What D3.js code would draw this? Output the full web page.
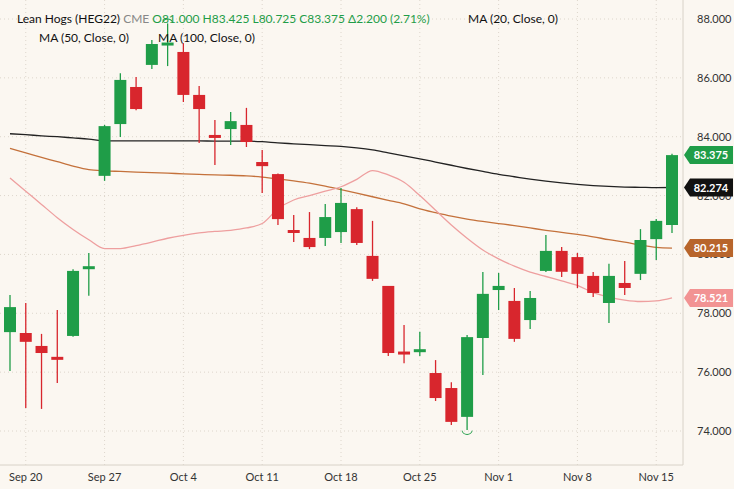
<!DOCTYPE html><html><head><meta charset="utf-8">
<script src="https://cdn.jsdelivr.net/npm/d3@7"></script>
<style>body{margin:0;background:#fbf7f1;font-family:Lato,"Open Sans",sans-serif}</style></head><body>
<svg id="c" width="734" height="489"></svg>
<script>
const dates=["Sep 17","Sep 20","Sep 21","Sep 22","Sep 23","Sep 24","Sep 27","Sep 28","Sep 29","Sep 30","Oct 1","Oct 4","Oct 5","Oct 6","Oct 7","Oct 8","Oct 11","Oct 12","Oct 13","Oct 14","Oct 15","Oct 18","Oct 19","Oct 20","Oct 21","Oct 22","Oct 25","Oct 26","Oct 27","Oct 28","Oct 29","Nov 1","Nov 2","Nov 3","Nov 4","Nov 5","Nov 8","Nov 9","Nov 10","Nov 11","Nov 12","Nov 15","Nov 16"];
const open=[77.36,77.33,76.89,76.52,77.23,79.55,82.67,84.43,85.69,86.44,87.15,86.88,85.42,84.06,84.26,84.40,83.14,82.73,80.83,80.56,80.56,80.76,81.54,79.95,78.93,76.70,76.72,75.97,75.46,74.48,77.16,78.79,78.42,77.77,79.44,80.12,79.91,79.27,78.35,79.03,79.34,80.52,81.000];
const high=[78.62,78.35,77.30,78.11,79.50,80.05,84.40,86.16,86.03,87.29,87.85,87.18,85.72,84.57,84.84,84.98,83.55,82.75,81.34,81.44,81.71,82.26,81.60,81.14,78.93,77.60,77.37,76.41,75.66,77.26,79.40,79.37,78.86,78.76,80.66,80.25,80.05,79.40,79.68,79.78,80.86,81.20,83.425];
const low=[76.04,74.78,74.75,75.63,77.20,78.60,82.50,83.99,84.90,86.30,86.40,85.18,83.79,83.04,83.72,83.65,82.09,81.00,80.42,80.18,80.29,80.39,80.32,79.10,76.55,76.30,76.55,75.02,74.20,74.03,75.90,78.11,77.03,77.47,79.40,79.23,78.86,78.55,77.67,78.62,79.13,79.81,80.725];
const close=[78.21,77.03,76.65,76.45,79.44,79.60,84.36,85.93,84.94,87.15,87.20,85.42,84.94,83.96,84.53,83.82,83.00,81.20,80.75,80.25,81.27,81.75,80.39,79.17,76.65,76.60,76.78,75.12,74.31,77.19,78.66,78.93,77.13,78.52,80.12,79.41,79.34,78.69,79.27,78.86,80.49,81.14,83.375];
const ma100=[84.10,84.07,84.03,84.00,83.96,83.92,83.86,83.86,83.86,83.86,83.86,83.86,83.86,83.85,83.85,83.85,83.83,83.79,83.76,83.73,83.70,83.67,83.62,83.55,83.45,83.35,83.25,83.14,83.03,82.92,82.82,82.72,82.64,82.56,82.49,82.43,82.38,82.34,82.31,82.29,82.28,82.27,82.274];
const ma50=[83.60,83.45,83.30,83.15,83.00,82.88,82.84,82.82,82.80,82.78,82.76,82.74,82.72,82.70,82.69,82.67,82.63,82.57,82.50,82.42,82.32,82.20,82.08,81.96,81.84,81.72,81.55,81.42,81.30,81.20,81.12,81.05,80.98,80.90,80.82,80.75,80.68,80.60,80.50,80.42,80.32,80.24,80.215];
const ma20=[82.60,82.15,81.70,81.25,80.85,80.50,80.20,80.20,80.30,80.42,80.55,80.65,80.73,80.78,80.82,80.90,81.05,81.55,81.85,82.00,82.15,82.30,82.55,82.85,82.70,82.45,82.00,81.50,81.00,80.55,80.15,79.85,79.60,79.40,79.25,79.10,78.95,78.70,78.55,78.45,78.40,78.42,78.521];
const yTicks=[74,76,78,80,82,84,86,88];
const xTicks=["Sep 20","Sep 27","Oct 4","Oct 11","Oct 18","Oct 25","Nov 1","Nov 8","Nov 15"];

const svg=d3.select("#c");
const W=683,H=465;
const x=d3.scalePoint().domain(dates).range([10,672]);
const y=d3.scaleLinear().domain([74,88]).range([431,19]);
const G="#1f9d48",R="#d8262d";
svg.append("rect").attr("width",734).attr("height",489).attr("fill","#fbf7f1");
const g=svg.append("g");
g.selectAll(".hg").data(yTicks).join("line").attr("x1",0).attr("x2",W).attr("y1",d=>y(d)).attr("y2",d=>y(d)).attr("stroke","#ddd6cc").attr("stroke-dasharray","1,3");
g.selectAll(".vg").data(xTicks).join("line").attr("x1",d=>x(d)).attr("x2",d=>x(d)).attr("y1",0).attr("y2",H).attr("stroke","#ddd6cc").attr("stroke-dasharray","1,3");
svg.append("line").attr("x1",W).attr("x2",W).attr("y1",0).attr("y2",H).attr("stroke","#d8d2c8");
svg.append("line").attr("x1",0).attr("x2",W).attr("y1",H).attr("y2",H).attr("stroke","#d8d2c8");
const line=d3.line().x((d,i)=>x(dates[i])).y(d=>y(d)).curve(d3.curveMonotoneX);
[[ma100,"#222"],[ma50,"#c4713b"],[ma20,"#ee9f9f"]].forEach(([a,c])=>g.append("path").attr("d",line(a)).attr("fill","none").attr("stroke",c).attr("stroke-width",1.3));
const idx=d3.range(dates.length);
const col=i=>close[i]>=open[i]?G:R;
g.selectAll(".w").data(idx).join("line").attr("x1",i=>x(dates[i])).attr("x2",i=>x(dates[i])).attr("y1",i=>y(high[i])).attr("y2",i=>y(low[i])).attr("stroke",col).attr("stroke-width",1.3);
g.selectAll(".b").data(idx).join("rect").attr("x",i=>x(dates[i])-6).attr("width",12)
 .attr("y",i=>y(Math.max(open[i],close[i]))).attr("height",i=>Math.max(3,Math.abs(y(open[i])-y(close[i])))).attr("fill",col);
const li=d3.minIndex(low);
g.append("path").attr("d",d3.arc()({innerRadius:5,outerRadius:5.8,startAngle:Math.PI/2+0.3,endAngle:3*Math.PI/2-0.3})).attr("transform",`translate(${x(dates[li])},${y(low[li])-1})`).attr("fill",G);
const hi=d3.maxIndex(high);
g.append("path").attr("d",d3.arc()({innerRadius:5,outerRadius:5.8,startAngle:-Math.PI/2+0.3,endAngle:Math.PI/2-0.3})).attr("transform",`translate(${x(dates[hi])},${y(high[hi])+1})`).attr("fill",G);
const tags=[[close[42],G],[ma100[42],"#111"],[ma50[42],"#b8652b"],[ma20[42],"#f29393"]];
// y tick labels, shifted slightly where a price tag sits over them (as in the reference, they are mostly hidden)
svg.selectAll(".yt").data(yTicks).join("text").attr("x",697).attr("y",d=>y(d)+4).attr("font-size",11).attr("fill","#333").text(d=>d.toFixed(3));
svg.selectAll(".xt").data(xTicks).join("text").attr("x",d=>x(d)).attr("y",481).attr("text-anchor","middle").attr("font-size",11).attr("fill","#333").text(d=>d);
tags.forEach(([v,c])=>{const yy=y(v);
 svg.append("path").attr("d",`M684,${yy} L690,${yy-9} L733,${yy-9} L733,${yy+9} L690,${yy+9} Z`).attr("fill",c);
 svg.append("text").attr("x",711).attr("y",yy+4).attr("text-anchor","middle").attr("font-size",11).attr("font-weight","bold").attr("fill","#fff").text(v.toFixed(3));});
const t=svg.append("text").attr("x",17).attr("y",23).attr("font-size",12);
t.append("tspan").attr("fill","#111").text("Lean Hogs (HEG22) ");
t.append("tspan").attr("fill","#888").text("CME ");
t.append("tspan").attr("fill",G).text("O81.000 H83.425 L80.725 C83.375 Δ2.200 (2.71%)");
svg.append("text").attr("x",468).attr("y",23).attr("font-size",12).attr("fill","#111").text("MA (20, Close, 0)");
svg.append("text").attr("x",39).attr("y",42).attr("font-size",12).attr("fill","#111").text("MA (50, Close, 0)");
svg.append("text").attr("x",158).attr("y",42).attr("font-size",12).attr("fill","#111").text("MA (100, Close, 0)");
</script></body></html>
